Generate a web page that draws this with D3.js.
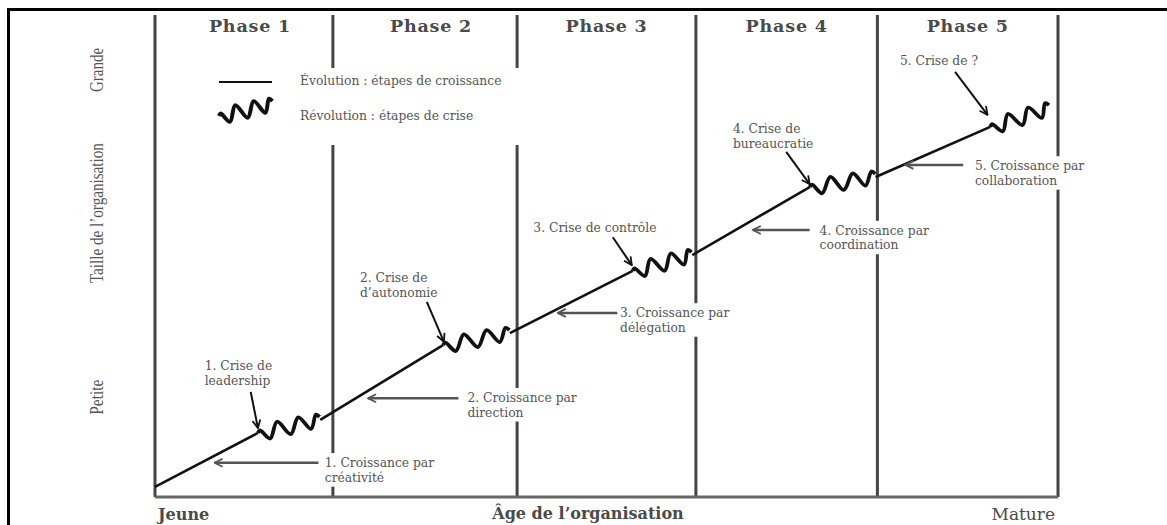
<!DOCTYPE html>
<html>
<head>
<meta charset="utf-8">
<script src="https://cdn.jsdelivr.net/npm/d3@7"></script>
<style>
  body { margin: 0; background: #fff; }
  svg { display: block; }
</style>
</head>
<body>
<div id="chart"></div>
<script>

// ---- data (age / size in % of the plot) ----
var phases = ["Phase 1", "Phase 2", "Phase 3", "Phase 4", "Phase 5"];
var phaseBounds = [0, 19.7, 40.1, 59.9, 80.0, 100];

var sizeLabels = ["Petite", "Taille de l\u2019organisation", "Grande"];
var sizeLabelAt = [20.7, 58.9, 88.6];
var ageLabels = ["Jeune", "\u00c2ge de l\u2019organisation", "Mature"];

// evolution = straight growth, revolution = crisis squiggle
var evolution = [
    [[0, 2.1], [11.4, 13.3]],
    [[18.3, 16.0], [31.9, 31.5]],
    [[39.3, 34.0], [52.9, 46.9]],
    [[59.5, 50.2], [72.5, 64.3]],
    [[79.8, 66.4], [92.5, 76.8]]
];
var revolution = [
    [[11.4, 13.3], [18.3, 16.0]],
    [[31.9, 31.5], [39.3, 34.0]],
    [[52.9, 46.9], [59.5, 50.2]],
    [[72.5, 64.3], [79.8, 66.4]],
    [[92.5, 76.8], [99.1, 80.7]]
];
// squiggle glyph: [fraction along segment, sideways offset px]
var wiggleShape = [[0, 0], [0.04, -2], [0.17, 8], [0.33, -7], [0.5, 8], [0.67, -7], [0.83, 7], [0.95, -6], [1, -3]];

var crisisNotes = [
    ["1. Crise de", "leadership"],
    ["2. Crise de", "d\u2019autonomie"],
    ["3. Crise de contr\u00f4le"],
    ["4. Crise de", "bureaucratie"],
    ["5. Crise de ?"]
];
var growthNotes = [
    ["1. Croissance par", "cr\u00e9ativit\u00e9"],
    ["2. Croissance par", "direction"],
    ["3. Croissance par", "d\u00e9l\u00e9gation"],
    ["4. Croissance par", "coordination"],
    ["5. Croissance par", "collaboration"]
];
var crisisNoteAt = [[5.5, 26.3], [22.7, 44.6], [41.9, 55.0], [64.0, 75.5], [82.5, 89.6]];
var growthNoteAt = [[18.8, 6.2], [34.6, 19.7], [51.5, 37.3], [73.6, 54.4], [90.8, 67.8]];

var crisisArrows = [
    [[10.6, 21.8], [11.4, 14.3]],
    [[30.1, 40.5], [32.0, 32.2]],
    [[50.7, 53.9], [52.8, 48.1]],
    [[69.9, 71.6], [72.5, 64.9]],
    [[88.6, 88.2], [92.2, 79.3]]
];
var growthArrows = [
    [[18.1, 7.1], [6.6, 7.1]],
    [[33.6, 20.5], [23.6, 20.5]],
    [[51.2, 38.2], [44.6, 38.2]],
    [[72.5, 55.4], [66.2, 55.4]],
    [[89.5, 68.9], [83.1, 68.9]]
];

var legendItems = ["\u00c9volution : \u00e9tapes de croissance", "R\u00e9volution : \u00e9tapes de crise"];

// ---- layout ----
var W = 1167, H = 525;
var serif = "'DejaVu Serif', 'Liberation Serif', serif";
var gray = "#555";

var x = d3.scaleLinear().domain([0, 100]).range([155, 1058]);
var y = d3.scaleLinear().domain([0, 100]).range([497, 15]);

var svg = d3.select("#chart").append("svg")
    .attr("width", W)
    .attr("height", H);

var defs = svg.append("defs");
[["arrowBlack", "#111"], ["arrowGray", "#555"]].forEach(function(m) {
    defs.append("marker")
        .attr("id", m[0])
        .attr("markerUnits", "userSpaceOnUse")
        .attr("viewBox", "0 0 10 10")
        .attr("refX", 9).attr("refY", 5)
        .attr("markerWidth", 10).attr("markerHeight", 10)
        .attr("orient", "auto")
        .append("path")
        .attr("d", "M1,1 L9,5 L1,9")
        .attr("fill", "none")
        .attr("stroke", m[1])
        .attr("stroke-width", 1.8);
});

// outer frame
svg.append("path")
    .attr("d", "M8.5,525 L8.5,9.5 L1167,9.5")
    .attr("fill", "none")
    .attr("stroke", "#000")
    .attr("stroke-width", 3);

// phase separators
svg.selectAll(".sep")
    .data(phaseBounds)
    .enter().append("line")
    .attr("class", "sep")
    .attr("x1", function(d) { return x(d); })
    .attr("x2", function(d) { return x(d); })
    .attr("y1", y(100))
    .attr("y2", y(0))
    .attr("stroke", "#444")
    .attr("stroke-width", 3);

// age axis
svg.append("line")
    .attr("x1", x(0)).attr("x2", x(100))
    .attr("y1", y(0)).attr("y2", y(0))
    .attr("stroke", "#666")
    .attr("stroke-width", 3);

var maskLayer = svg.append("g");
var markLayer = svg.append("g");
var textLayer = svg.append("g");

// phase titles
textLayer.selectAll(".phase")
    .data(phases)
    .enter().append("text")
    .attr("class", "phase")
    .attr("x", function(d, i) { return x((phaseBounds[i] + phaseBounds[i + 1]) / 2) + (i < 2 ? 6 : 0); })
    .attr("y", 32)
    .attr("text-anchor", "middle")
    .style("font-family", serif)
    .style("font-weight", "bold")
    .style("font-size", "17.5px")
    .style("letter-spacing", "0.8px")
    .attr("fill", "#4a4a4a")
    .text(function(d) { return d; });

// size labels (rotated)
var sizeLen = [35, 140, 44];
textLayer.selectAll(".size")
    .data(sizeLabels)
    .enter().append("text")
    .attr("class", "size")
    .attr("transform", function(d, i) { return "translate(103," + y(sizeLabelAt[i]) + ") rotate(-90)"; })
    .attr("text-anchor", "middle")
    .attr("textLength", function(d, i) { return sizeLen[i]; })
    .attr("lengthAdjust", "spacingAndGlyphs")
    .style("font-family", "'Liberation Serif', serif")
    .style("font-size", "19px")
    .attr("fill", gray)
    .text(function(d) { return d; });

// age labels
textLayer.append("text")
    .attr("x", x(0) + 3).attr("y", 520)
    .style("font-family", serif).style("font-weight", "bold").style("font-size", "16px")
    .attr("fill", "#4a4a4a")
    .text(ageLabels[0]);
textLayer.append("text")
    .attr("x", 588).attr("y", 519)
    .attr("text-anchor", "middle")
    .style("font-family", serif).style("font-weight", "bold").style("font-size", "16px")
    .attr("fill", "#4a4a4a")
    .text(ageLabels[1]);
textLayer.append("text")
    .attr("x", x(100) - 3).attr("y", 520)
    .attr("text-anchor", "end")
    .style("font-family", serif).style("font-size", "17px")
    .attr("fill", "#4a4a4a")
    .text(ageLabels[2]);

// growth line
var line = d3.line();
var curvy = d3.line().curve(d3.curveCatmullRom.alpha(0.5));

function wigglePoints(p0, p1) {
    var dx = p1[0] - p0[0], dy = p1[1] - p0[1];
    var len = Math.sqrt(dx * dx + dy * dy);
    var nx = -dy / len, ny = dx / len;
    return wiggleShape.map(function(s) {
        return [p0[0] + dx * s[0] + nx * s[1], p0[1] + dy * s[0] + ny * s[1]];
    });
}
function px(p) { return [x(p[0]), y(p[1])]; }

markLayer.selectAll(".evo")
    .data(evolution)
    .enter().append("path")
    .attr("class", "evo")
    .attr("d", function(d) { return line(d.map(px)); })
    .attr("fill", "none")
    .attr("stroke", "#111")
    .attr("stroke-width", 2.6);

markLayer.selectAll(".rev")
    .data(revolution)
    .enter().append("path")
    .attr("class", "rev")
    .attr("d", function(d) { return curvy(wigglePoints(px(d[0]), px(d[1]))); })
    .attr("fill", "none")
    .attr("stroke", "#111")
    .attr("stroke-width", 3.8)
    .attr("stroke-linejoin", "round");

// arrows
markLayer.selectAll(".carrow")
    .data(crisisArrows)
    .enter().append("path")
    .attr("class", "carrow")
    .attr("d", function(d) { return line(d.map(px)); })
    .attr("stroke", "#111")
    .attr("stroke-width", 2)
    .attr("marker-end", "url(#arrowBlack)");

markLayer.selectAll(".garrow")
    .data(growthArrows)
    .enter().append("path")
    .attr("class", "garrow")
    .attr("d", function(d) { return line(d.map(px)); })
    .attr("stroke", "#555")
    .attr("stroke-width", 2.5)
    .attr("marker-end", "url(#arrowGray)");

// notes with white backing that cuts the separators
function addNotes(notes, at) {
    notes.forEach(function(lines, i) {
        var t = textLayer.append("text")
            .attr("x", x(at[i][0]))
            .attr("y", y(at[i][1]))
            .style("font-family", serif)
            .style("font-size", "12.3px")
            .attr("fill", gray);
        t.selectAll("tspan")
            .data(lines)
            .enter().append("tspan")
            .attr("x", x(at[i][0]))
            .attr("dy", function(d, j) { return j ? 14.5 : 0; })
            .text(function(d) { return d; });
        var b = t.node().getBBox();
        maskLayer.append("rect")
            .attr("x", b.x - 3).attr("y", b.y - 3)
            .attr("width", b.width + 6).attr("height", b.height + 5)
            .attr("fill", "#fff");
    });
}
addNotes(crisisNotes, crisisNoteAt);
addNotes(growthNotes, growthNoteAt);

// legend
maskLayer.append("rect")
    .attr("x", 200).attr("y", 68)
    .attr("width", 360).attr("height", 77)
    .attr("fill", "#fff");

markLayer.append("line")
    .attr("x1", 219).attr("x2", 272)
    .attr("y1", 82).attr("y2", 82)
    .attr("stroke", "#111")
    .attr("stroke-width", 2);
markLayer.append("path")
    .attr("d", curvy(wigglePoints([219, 116], [273, 104])))
    .attr("fill", "none")
    .attr("stroke", "#111")
    .attr("stroke-width", 4)
    .attr("stroke-linejoin", "round");

textLayer.selectAll(".leg")
    .data(legendItems)
    .enter().append("text")
    .attr("class", "leg")
    .attr("x", 300)
    .attr("y", function(d, i) { return i ? 120 : 85; })
    .style("font-family", serif)
    .style("font-size", "12.3px")
    .attr("fill", gray)
    .text(function(d) { return d; });

</script>
</body>
</html>
